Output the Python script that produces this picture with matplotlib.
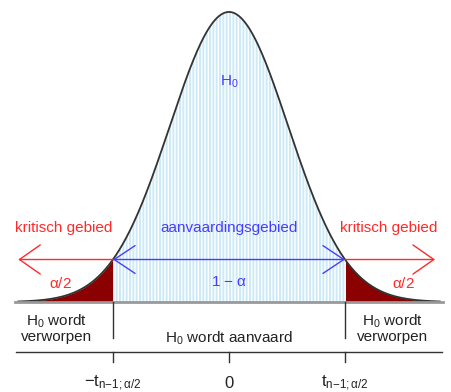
import numpy as np
import matplotlib.pyplot as plt

plt.rcParams['font.family'] = ['Liberation Sans', 'DejaVu Sans']
plt.rcParams['mathtext.fontset'] = 'custom'
plt.rcParams['mathtext.rm'] = 'Liberation Sans'
plt.rcParams['mathtext.it'] = 'Liberation Sans'
plt.rcParams['hatch.linewidth'] = 1.0

# Kritieke waarde en bereik van de dichtheid
t_crit = 1.96
t_max = 3.56
tick_pos = [-t_crit, 0, t_crit]
tick_labels = [r'$\mathregular{-t_{n{-}1{;}\alpha/2}}$', '0', r'$\mathregular{t_{n{-}1{;}\alpha/2}}$']

rood = '#ff2a2a'
blauw = '#4a3cff'
tekst = '#222222'

def dichtheid(x):
    return np.exp(-x**2 / 2) / np.sqrt(2 * np.pi)

x = np.linspace(-t_max, t_max, 600)
y = dichtheid(x)
y_crit = dichtheid(t_crit)

fig = plt.figure(figsize=(4.51, 3.92), dpi=100)
ax = fig.add_axes([0, 0, 1, 1])
ax.set_xlim(-3.868, 3.75)
ax.set_ylim(-0.1238, 0.4154)
ax.axis('off')

# aanvaardingsgebied
mid = (x >= -t_crit) & (x <= t_crit)
ax.fill_between(x[mid], 0, y[mid], facecolor='#cdeaf6', edgecolor='white',
                hatch='|||||', linewidth=0)
# kritische gebieden
links = x <= -t_crit
rechts = x >= t_crit
ax.fill_between(x[links], 0, y[links], color='#8b0000', linewidth=0)
ax.fill_between(x[rechts], 0, y[rechts], color='#8b0000', linewidth=0)

ax.plot(x, y, color='#333333', lw=1.3)
ax.plot([-3.62, 3.62], [0, 0], color='#999999', lw=2)

# pijlen
kop = dict(arrowstyle='->,head_length=1.5,head_width=1.05', lw=1, shrinkA=0, shrinkB=0)
ax.annotate('', xy=(-t_max, y_crit), xytext=(-t_crit, y_crit),
            arrowprops=dict(color=rood, mutation_scale=10, **kop))
ax.annotate('', xy=(3.48, y_crit), xytext=(t_crit, y_crit),
            arrowprops=dict(color=rood, mutation_scale=10, **kop))
ax.annotate('', xy=(-t_crit, y_crit), xytext=(t_crit, y_crit),
            arrowprops=dict(color=blauw, mutation_scale=10,
                            arrowstyle='<->,head_length=1.5,head_width=1.0',
                            lw=1, shrinkA=0, shrinkB=0))

fs = 11
ax.text(-2.80, 0.102, 'kritisch gebied', color=rood, fontsize=fs, ha='center', va='center')
ax.text(2.69, 0.102, 'kritisch gebied', color=rood, fontsize=fs, ha='center', va='center')
ax.text(0, 0.102, 'aanvaardingsgebied', color=blauw, fontsize=fs, ha='center', va='center')
ax.text(0, 0.027, r'1 $\mathregular{-}$ $\mathregular{\alpha}$', color=blauw, fontsize=fs,
        ha='center', va='center')
ax.text(-2.85, 0.025, r'$\mathregular{\alpha/2}$', color=rood, fontsize=fs, ha='center', va='center')
ax.text(2.94, 0.025, r'$\mathregular{\alpha/2}$', color=rood, fontsize=fs, ha='center', va='center')
ax.text(0, 0.3026, r'$\mathregular{H_0}$', color=blauw, fontsize=fs, ha='center', va='center')

ax.text(-2.92, -0.036, r'$\mathregular{H_0}$ wordt' + '\nverworpen', fontsize=fs, color=tekst,
        ha='center', va='center', linespacing=1.0)
ax.text(2.76, -0.036, r'$\mathregular{H_0}$ wordt' + '\nverworpen', fontsize=fs, color=tekst,
        ha='center', va='center', linespacing=1.0)
ax.text(0, -0.0495, r'$\mathregular{H_0}$ wordt aanvaard', fontsize=fs, color=tekst,
        ha='center', va='center')

# scheidingslijnen
for t in [-t_crit, t_crit]:
    ax.plot([t, t], [0, -0.0495], color='#333333', lw=1)

# onderste as
ax.plot([-3.6, 3.6], [-0.0688, -0.0688], color='#333333', lw=1)
for t, lab in zip(tick_pos, tick_labels):
    ax.plot([t, t], [-0.0688, -0.0825], color='#333333', lw=1)
    ax.text(t, -0.112, lab, fontsize=12, color=tekst, ha='center', va='center')

plt.savefig('out.png', dpi=100)
